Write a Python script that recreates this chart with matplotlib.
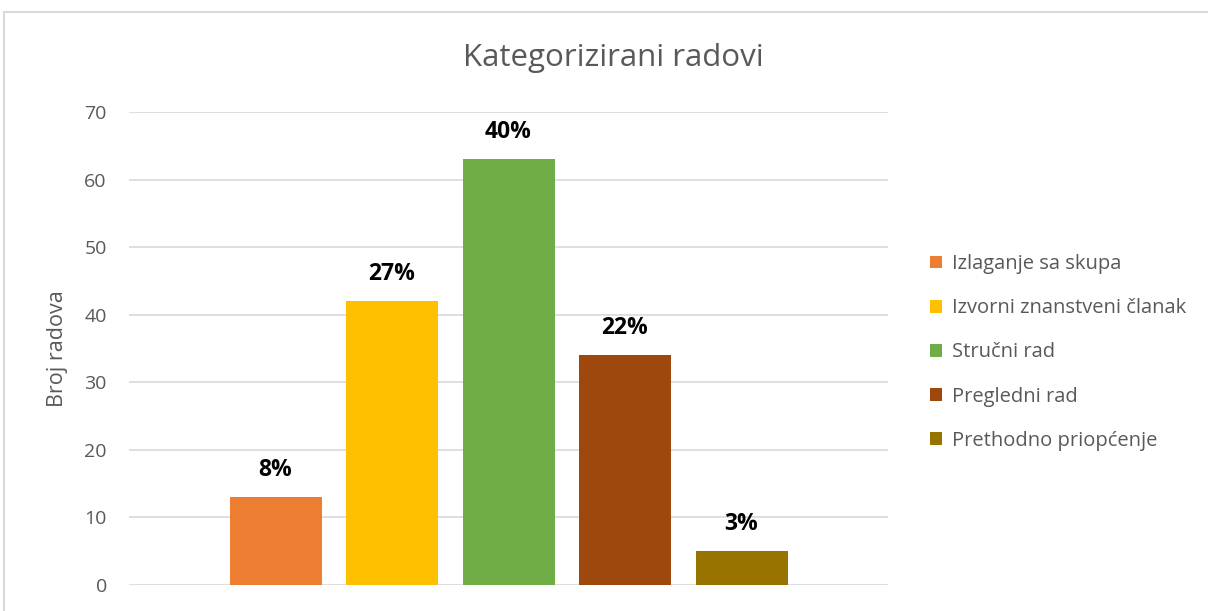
import matplotlib
matplotlib.use("Agg")
import matplotlib.pyplot as plt
from matplotlib.patches import Rectangle
import numpy as np

categories = ["Izlaganje sa skupa", "Izvorni znanstveni članak", "Stručni rad",
              "Pregledni rad", "Prethodno priopćenje"]
values = [13, 42, 63, 34, 5]
labels = ["8%", "27%", "40%", "22%", "3%"]
colors = ["#ED7D31", "#FFC000", "#70AD47", "#9E480E", "#997300"]
yticks = [0, 10, 20, 30, 40, 50, 60, 70]

plt.rcParams['font.family'] = ['Open Sans', 'DejaVu Sans']

W, H = 1208, 611
fig = plt.figure(figsize=(W/100, H/100), dpi=100)
ax = fig.add_axes([129/W, 1-585/H, (888-129)/W, (585-112)/H])

step = 116.5/759
width = 92/759
n = len(values)
xs = (np.arange(n) - (n-1)/2) * step
handles = []
for x, v, c, lab, cat in zip(xs, values, colors, labels, categories):
    b = ax.bar(x, v, width=width, color=c, label=cat, zorder=3)
    handles.append(b)
    ax.annotate(lab, (x, v), xytext=(0, 11), textcoords='offset points',
                ha='center', va='bottom', fontsize=16.5, fontweight='bold', color='black')

ax.set_xlim(-0.5, 0.5)
ax.set_ylim(0, 70)
ax.set_yticks(yticks)
ax.set_xticks([])
ax.grid(axis='y', color='#D9D9D9', linewidth=1.2, zorder=0)
for s in ax.spines.values():
    s.set_visible(False)
ax.tick_params(axis='y', length=0, pad=16, labelsize=14, labelcolor='#595959')
ax.set_ylabel("Broj radova", fontsize=15.5, color='#595959', labelpad=12)

fig.text(613/W, 1-58/H, "Kategorizirani radovi", ha='center', va='center',
         fontsize=22.5, color='#595959')

leg = fig.legend(handles=handles, labels=categories, loc='upper left',
                 bbox_to_anchor=(922/W, 1-246/H), frameon=False, fontsize=14.5,
                 labelcolor='#595959', handlelength=0.6, handleheight=0.6,
                 handletextpad=0.5, labelspacing=1.2, borderaxespad=0)

fig.patches.append(Rectangle((4/W, -0.1), 1.2, 1-12/H+0.1, transform=fig.transFigure,
                             fill=False, edgecolor='#D9D9D9', linewidth=1.5))

fig.savefig("out.png", dpi=100)
